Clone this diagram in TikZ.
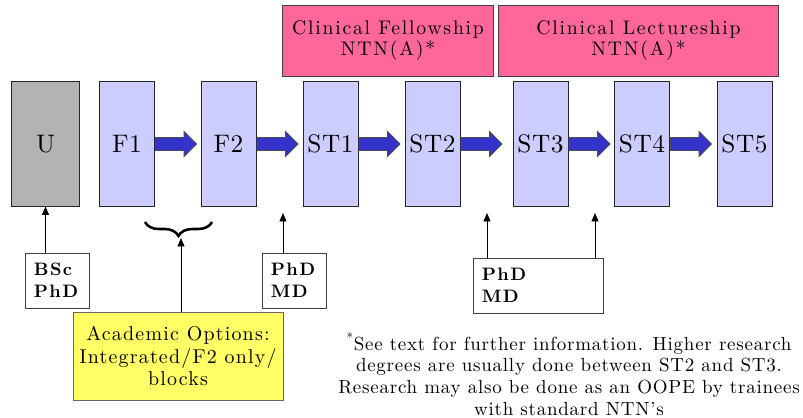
\documentclass[tikz,border=0pt]{standalone}
\usepackage{fontspec}
\setmainfont{lmroman10-regular.otf}[BoldFont=lmroman10-bold.otf, ItalicFont=lmroman10-italic.otf]
\usetikzlibrary{arrows.meta, shapes.arrows, decorations.pathreplacing}

\definecolor{stagefill}{RGB}{204,204,255}
\definecolor{undergrad}{RGB}{179,179,179}
\definecolor{academic}{RGB}{255,102,153}
\definecolor{options}{RGB}{255,255,102}
\definecolor{progress}{RGB}{51,51,204}

\newcommand{\spacedsize}[3]{\fontsize{#1}{#2}\selectfont\addfontfeatures{LetterSpace=#3}}

\begin{document}
\begin{tikzpicture}[
    x=0.025cm, y=-0.025cm,
    stage/.style={
        rectangle, minimum width=1.375cm, minimum height=3.1cm,
        inner sep=0pt, draw=black!85, line width=0.7pt,
        fill=stagefill, font=\spacedsize{18}{20}{2}
    },
    ugstage/.style={stage, minimum width=1.675cm, fill=undergrad},
    post/.style={
        rectangle, minimum height=1.775cm, align=center,
        draw=black!75, line width=0.7pt, fill=academic,
        font=\spacedsize{14}{14.5}{9}
    },
    degree/.style={
        rectangle, minimum height=1.375cm, inner xsep=0.225cm,
        align=left, draw=black!75, line width=0.6pt, fill=white,
        font=\bfseries\spacedsize{12.8}{15.8}{7.5}
    },
    options/.style={
        rectangle, minimum width=5.25cm, minimum height=2.2cm,
        align=center, draw=black!60, line width=0.6pt, fill=options,
        font=\spacedsize{14.2}{15.8}{6}
    },
    note/.style={align=center, font=\spacedsize{13.5}{15.4}{4}},
    blockarr/.style={
        single arrow, anchor=tail, minimum height=1.025cm,
        minimum width=0pt, inner sep=0.15cm,
        single arrow head extend=0.15cm, single arrow head indent=0pt,
        fill=progress, draw=black!70, line width=0.6pt
    },
    uparr/.style={
        -{Triangle[length=6pt, width=5pt]},
        line width=0.6pt, black
    },
    bracedec/.style={
        decorate, decoration={brace, mirror, amplitude=0.35cm},
        line width=1.8pt
    }
]
\useasboundingbox (0,0) rectangle (803,417);

\node[ugstage] at (45.5,144)  (u)   {U};
\node[stage]   at (127,144)   (f1)  {F1};
\node[stage]   at (228.5,144) (f2)  {F2};
\node[stage]   at (330.5,144) (st1) {ST1};
\node[stage]   at (432.5,144) (st2) {ST2};
\node[stage]   at (540.5,144) (st3) {ST3};
\node[stage]   at (642,144)   (st4) {ST4};
\node[stage]   at (744.5,144) (st5) {ST5};

\node[blockarr] at (f1.east)  (f1f2)   {};
\node[blockarr] at (f2.east)  (f2st1)  {};
\node[blockarr] at (st1.east) (st1st2) {};
\node[blockarr] at (st2.east) (st2st3) {};
\node[blockarr] at (st3.east) (st3st4) {};
\node[blockarr] at (st4.east) (st4st5) {};

\node[post, minimum width=5.25cm]  at (388,40.5)   (fellow)  {Clinical Fellowship\\NTN(A)*};
\node[post, minimum width=6.975cm] at (638.5,40.5) (lecture) {Clinical Lectureship\\NTN(A)*};

\node[degree, minimum width=1.6cm, text width=1.15cm]  at (57,280.5)  (bsc)    {BSc\\PhD};
\node[degree, minimum width=1.6cm, text width=1.15cm]  at (294,280.5) (predeg) {PhD\\MD};
\node[degree, minimum width=3.25cm, text width=2.8cm]  at (538,285.5) (middeg) {PhD\\MD};

\node[options] at (178,356) (acopt) {Academic Options:\\Integrated/F2 only/\\blocks};

\node[note] at (569,374) (footnote) {\textsuperscript{*}See text for further information. Higher research\\
degrees are usually done between ST2 and ST3.\\
Research may also be done as an OOPE by trainees\\
with standard NTN’s};

\coordinate (gapa) at (283,213);
\coordinate (gapb) at (487,213);
\coordinate (gapc) at (595,213);
\coordinate (bracetip) at (181,238);

\draw[uparr] (bsc.north -| u.south) -- (u.south);
\draw[uparr] (predeg.north -| gapa) -- (gapa);
\draw[uparr] (middeg.north -| gapb) -- (gapb);
\draw[uparr] (middeg.north -| gapc) -- (gapc);

\draw[bracedec] (145,222) -- (212,222);
\draw[uparr] (acopt.north -| bracetip) -- (bracetip);

\end{tikzpicture}
\end{document}
